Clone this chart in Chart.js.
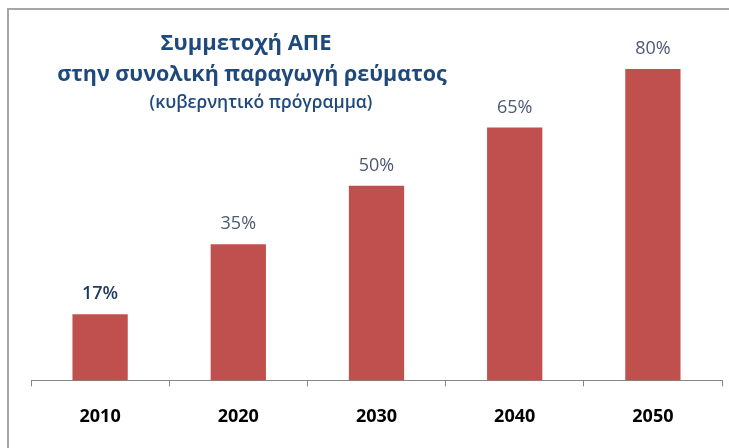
<!DOCTYPE html>
<html>
<head>
<meta charset="utf-8">
<script src="https://cdn.jsdelivr.net/npm/chart.js@4"></script>
<style>
  html, body { margin: 0; padding: 0; background: #fff; }
  #wrap { width: 729px; height: 448px; position: relative; }
</style>
</head>
<body>
<div id="wrap"><canvas id="c" width="729" height="448"></canvas></div>
<script>
const categories = ['2010', '2020', '2030', '2040', '2050'];
const shareValues = [17, 35, 50, 65, 80];
const valueLabels = ['17%', '35%', '50%', '65%', '80%'];
const titleLines = ['Συμμετοχή ΑΠΕ', 'στην συνολική παραγωγή ρεύματος', '(κυβερνητικό πρόγραμμα)'];

const frameAndText = {
  id: 'frameAndText',
  beforeDraw(chart) {
    const ctx = chart.ctx;
    ctx.save();
    ctx.fillStyle = '#ffffff';
    ctx.fillRect(0, 0, chart.width, chart.height);
    ctx.strokeStyle = '#a6a6a6';
    ctx.lineWidth = 2;
    ctx.beginPath();
    ctx.moveTo(8, chart.height);
    ctx.lineTo(8, 9);
    ctx.lineTo(chart.width, 9);
    ctx.stroke();
    ctx.restore();
  },
  afterDatasetsDraw(chart) {
    const ctx = chart.ctx;
    const meta = chart.getDatasetMeta(0);
    ctx.save();
    ctx.textAlign = 'center';
    ctx.textBaseline = 'middle';
    meta.data.forEach((bar, i) => {
      ctx.font = (i === 0 ? '600 ' : '') + '18px "Open Sans", sans-serif';
      ctx.fillStyle = i === 0 ? '#1f3a5f' : '#4a5a72';
      ctx.fillText(valueLabels[i], bar.x, bar.y - 20);
    });
    // title
    ctx.fillStyle = '#1f497d';
    ctx.font = 'bold 22px "Open Sans", sans-serif';
    ctx.fillText(titleLines[0], 246, 44);
    ctx.font = 'bold 21.5px "Open Sans", sans-serif';
    ctx.fillText(titleLines[1], 252, 75);
    ctx.font = '600 17.5px "Open Sans", sans-serif';
    ctx.fillText(titleLines[2], 261, 103);
    ctx.restore();
  }
};

new Chart(document.getElementById('c'), {
  type: 'bar',
  data: {
    labels: categories,
    datasets: [{
      data: shareValues,
      backgroundColor: '#c0504d',
      borderWidth: 0,
      barPercentage: 0.4,
      categoryPercentage: 1.0
    }]
  },
  options: {
    responsive: false,
    animation: false,
    devicePixelRatio: 1,
    layout: { padding: { left: 31, right: 7, top: 69, bottom: 0 } },
    plugins: { legend: { display: false }, title: { display: false }, tooltip: { enabled: false } },
    scales: {
      x: {
        offset: true,
        grid: { display: true, drawOnChartArea: false, drawTicks: true, tickLength: 6, tickColor: '#868686', offset: true },
        border: { display: true, color: '#868686', width: 1 },
        ticks: { color: '#000', font: { family: '"Open Sans", sans-serif', size: 18, weight: 'bold' }, padding: 20 }
      },
      y: { display: false, min: 0, max: 80 }
    }
  },
  plugins: [frameAndText]
});
</script>
</body>
</html>
